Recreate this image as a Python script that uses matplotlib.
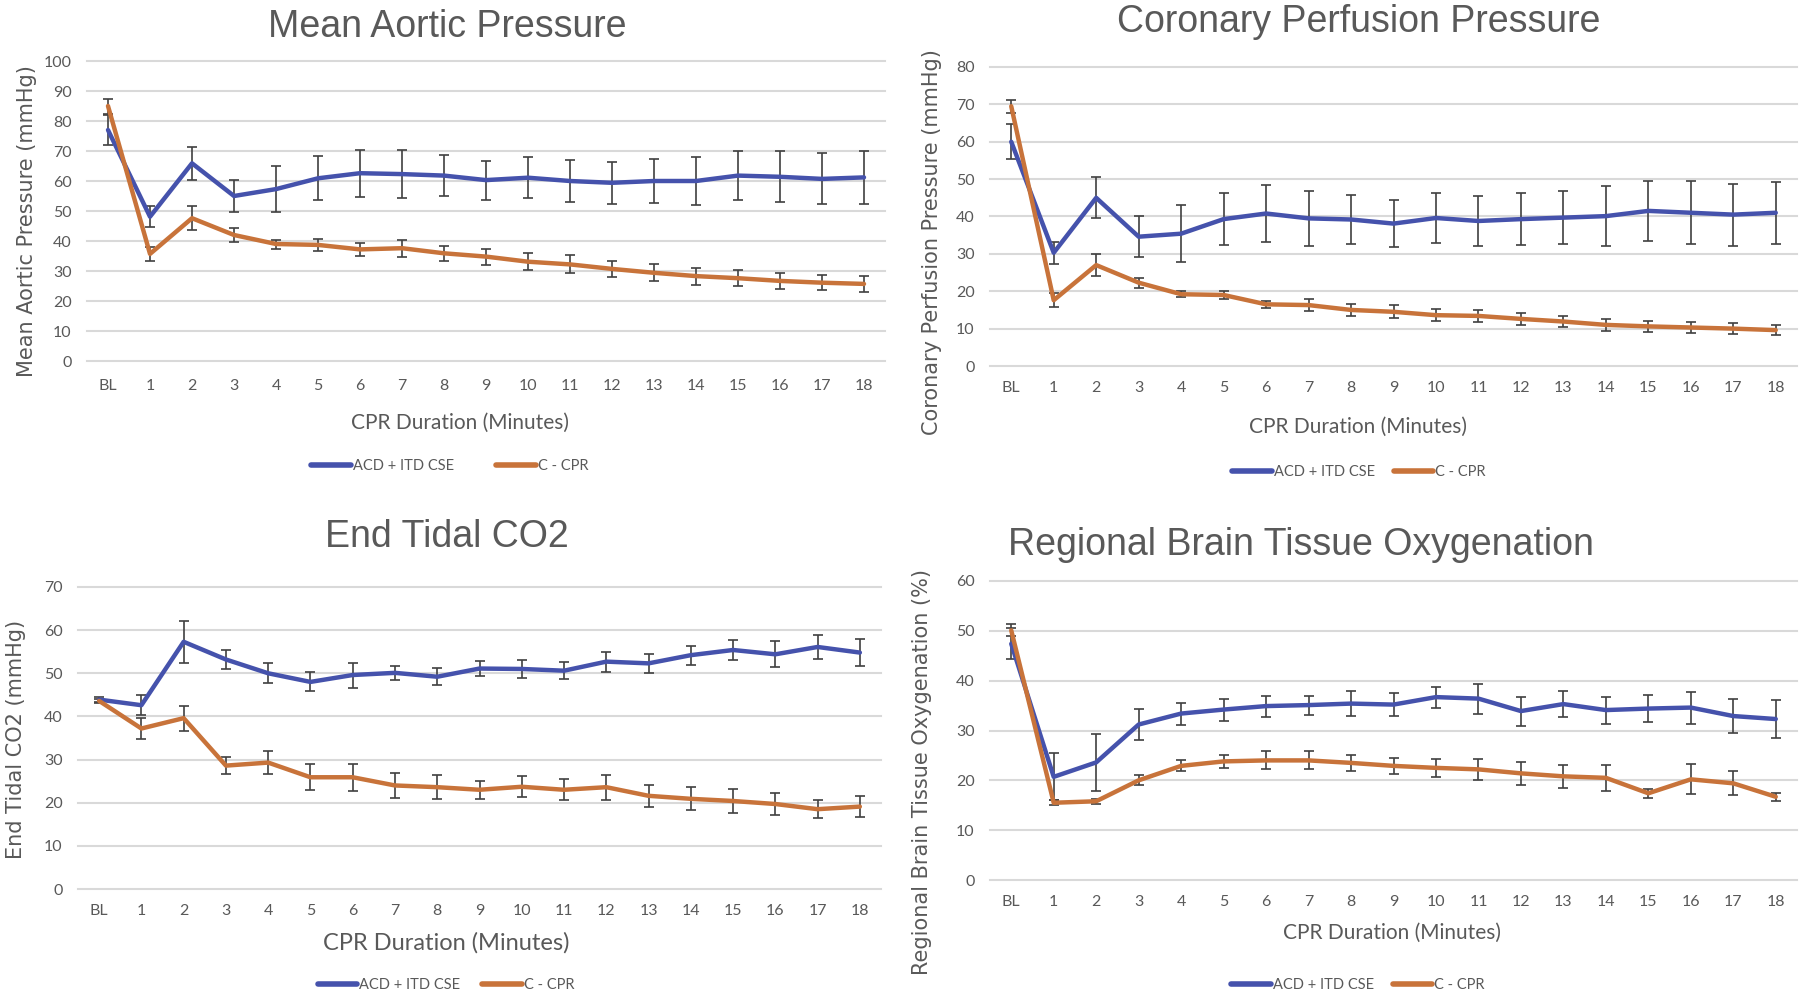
import matplotlib
matplotlib.use("Agg")
import matplotlib.pyplot as plt
from matplotlib.lines import Line2D
import numpy as np

categories = ["BL"] + [str(i) for i in range(1, 19)]

# Mean Aortic Pressure
map_acd = [77, 48.1, 65.9, 55, 57.3, 60.9, 62.6, 62.3, 61.8, 60.3, 61.1, 60, 59.4, 60, 60, 61.8, 61.4, 60.7, 61.2]
map_acd_err = [5, 3.5, 5.5, 5.3, 7.6, 7.3, 7.8, 7.9, 6.9, 6.5, 6.8, 7, 7, 7.2, 8, 8.2, 8.5, 8.5, 8.7]
map_cpr = [85, 35.7, 47.6, 42, 39, 38.7, 37.2, 37.6, 35.9, 34.8, 33.1, 32.2, 30.7, 29.4, 28.3, 27.6, 26.7, 26.1, 25.7]
map_cpr_err = [2.5, 2.2, 4, 2.4, 1.5, 2, 2.2, 2.8, 2.6, 2.7, 2.8, 3, 2.8, 2.8, 2.8, 2.6, 2.6, 2.5, 2.6]

# Coronary Perfusion Pressure
cpp_acd = [60, 30.3, 45, 34.6, 35.4, 39.3, 40.8, 39.5, 39.2, 38.1, 39.6, 38.8, 39.3, 39.7, 40.1, 41.5, 41, 40.5, 41]
cpp_acd_err = [4.7, 3, 5.5, 5.5, 7.7, 7, 7.5, 7.3, 6.6, 6.3, 6.8, 6.8, 7, 7.1, 8, 8.1, 8.4, 8.3, 8.3]
cpp_cpr = [69.5, 17.6, 27, 22.3, 19.2, 19, 16.5, 16.3, 15, 14.5, 13.6, 13.4, 12.6, 11.9, 11, 10.6, 10.3, 10, 9.6]
cpp_cpr_err = [1.8, 1.8, 3, 1.3, 0.8, 1, 0.9, 1.6, 1.5, 1.7, 1.6, 1.6, 1.6, 1.5, 1.7, 1.4, 1.4, 1.4, 1.4]

# End Tidal CO2
etco2_acd = [43.9, 42.6, 57.3, 53.2, 50, 48, 49.6, 50.1, 49.2, 51.1, 51, 50.6, 52.7, 52.3, 54.2, 55.4, 54.4, 56.1, 54.8]
etco2_acd_err = [0.5, 2.3, 4.8, 2.1, 2.3, 2.2, 2.9, 1.7, 2, 1.7, 2.1, 2, 2.3, 2.2, 2.2, 2.4, 3, 2.7, 3.1]
etco2_cpr = [43.6, 37.2, 39.6, 28.6, 29.3, 25.9, 25.9, 24, 23.6, 23, 23.7, 23, 23.6, 21.6, 20.9, 20.4, 19.7, 18.5, 19.1]
etco2_cpr_err = [0.5, 2.4, 2.9, 1.9, 2.7, 3, 3.1, 3, 2.8, 2.1, 2.4, 2.4, 2.9, 2.6, 2.7, 2.8, 2.6, 2.1, 2.5]

# Regional Brain Tissue Oxygenation
rbto_acd = [47.4, 20.7, 23.6, 31.2, 33.4, 34.2, 34.9, 35.1, 35.4, 35.2, 36.7, 36.4, 33.9, 35.3, 34.1, 34.4, 34.6, 32.9, 32.3]
rbto_acd_err = [3.1, 4.7, 5.7, 3.1, 2.2, 2.2, 2.1, 1.9, 2.5, 2.3, 2.1, 3, 2.9, 2.6, 2.7, 2.7, 3.2, 3.4, 3.8]
rbto_cpr = [50.1, 15.5, 15.8, 20, 22.9, 23.8, 24, 24, 23.5, 22.9, 22.5, 22.2, 21.4, 20.8, 20.5, 17.4, 20.2, 19.4, 16.7]
rbto_cpr_err = [1.2, 0.5, 0.5, 1, 1.1, 1.3, 1.8, 1.8, 1.6, 1.6, 1.8, 2.1, 2.3, 2.3, 2.6, 0.9, 3, 2.4, 0.8]

BLUE = "#4552AC"
ORANGE = "#C8733A"
GREY = "#595959"
W, H = 1800, 996

fig = plt.figure(figsize=(18, 9.96), dpi=100)


def px_axes(left, right, top, bottom):
    return fig.add_axes([left / W, 1 - bottom / H, (right - left) / W, (bottom - top) / H])


def fig_text(x, y, s, **kw):
    fig.text(x / W, 1 - y / H, s, ha="center", va="center", **kw)


panels = [
    dict(box=(87, 885, 61, 361), ymax=100, acd=map_acd, acd_err=map_acd_err, cpr=map_cpr, cpr_err=map_cpr_err,
         title="Mean Aortic Pressure", title_xy=(447, 27),
         ylabel="Mean Aortic Pressure (mmHg)", ylabel_xy=(27, 221),
         xlabel_xy=(460, 423), xlabel_size=15, legend_xy=(450, 466), colsp=2.9, xpad=13),
    dict(box=(990, 1797, 67, 366), ymax=80, acd=cpp_acd, acd_err=cpp_acd_err, cpr=cpp_cpr, cpr_err=cpp_cpr_err,
         title="Coronary Perfusion Pressure", title_xy=(1359, 22),
         ylabel="Coronary Perfusion Pressure (mmHg)", ylabel_xy=(932, 242),
         xlabel_xy=(1358, 427), xlabel_size=15, legend_xy=(1359, 472), colsp=1.3, xpad=11),
    dict(box=(78, 881, 587, 889), ymax=70, acd=etco2_acd, acd_err=etco2_acd_err, cpr=etco2_cpr, cpr_err=etco2_cpr_err,
         title="End Tidal CO2", title_xy=(447, 537),
         ylabel="End Tidal CO2 (mmHg)", ylabel_xy=(16, 739),
         xlabel_xy=(446, 943), xlabel_size=17, legend_xy=(446, 985), colsp=1.5, xpad=11),
    dict(box=(990, 1797, 581, 880), ymax=60, acd=rbto_acd, acd_err=rbto_acd_err, cpr=rbto_cpr, cpr_err=rbto_cpr_err,
         title="Regional Brain Tissue Oxygenation", title_xy=(1301, 545),
         ylabel="Regional Brain Tissue Oxygenation (%)", ylabel_xy=(922, 772),
         xlabel_xy=(1392, 933), xlabel_size=15, legend_xy=(1358, 985), colsp=1.3, xpad=11),
]

x = np.arange(len(categories))

for p in panels:
    ax = px_axes(*p["box"])
    ax.errorbar(x, p["acd"], yerr=p["acd_err"], color=BLUE, lw=3.2, ecolor="#404040",
                elinewidth=1.2, capsize=3.5, capthick=1.2, zorder=3, solid_capstyle="round")
    ax.errorbar(x, p["cpr"], yerr=p["cpr_err"], color=ORANGE, lw=3.2, ecolor="#404040",
                elinewidth=1.2, capsize=3.5, capthick=1.2, zorder=3, solid_capstyle="round")
    ax.set_xlim(-0.5, len(categories) - 0.5)
    ax.set_ylim(0, p["ymax"])
    ax.set_yticks(np.arange(0, p["ymax"] + 1, 10))
    ax.set_xticks(x)
    ax.set_xticklabels(categories)
    ax.grid(axis="y", color="#D9D9D9", lw=1.5)
    for gl in ax.get_ygridlines():
        gl.set_clip_on(False)
    ax.set_axisbelow(True)
    for s in ax.spines.values():
        s.set_visible(False)
    ax.tick_params(length=0, labelsize=11.5, labelcolor=GREY)
    ax.tick_params(axis="x", pad=p["xpad"])
    ax.tick_params(axis="y", pad=11)
    for lab in ax.get_xticklabels() + ax.get_yticklabels():
        lab.set_family("Lato")

    fig_text(*p["title_xy"], p["title"], fontsize=27, color=GREY, family="Liberation Sans")
    fig_text(*p["ylabel_xy"], p["ylabel"], fontsize=15, color=GREY, rotation=90, family="DejaVu Sans")
    fig_text(*p["xlabel_xy"], "CPR Duration (Minutes)", fontsize=p["xlabel_size"], color=GREY, family="Lato")

    handles = [Line2D([], [], color=BLUE, lw=4, solid_capstyle="round"),
               Line2D([], [], color=ORANGE, lw=4, solid_capstyle="round")]
    lx, ly = p["legend_xy"]
    leg = fig.legend(handles, ["ACD + ITD CSE", "C - CPR"], loc="center",
                     bbox_to_anchor=(lx / W, 1 - ly / H), ncol=2,
                     frameon=False, handlelength=2.7, handletextpad=0.15, columnspacing=p["colsp"],
                     prop={"family": "Lato", "size": 10.5})
    for t in leg.get_texts():
        t.set_color(GREY)

fig.savefig("out.png", dpi=100)
